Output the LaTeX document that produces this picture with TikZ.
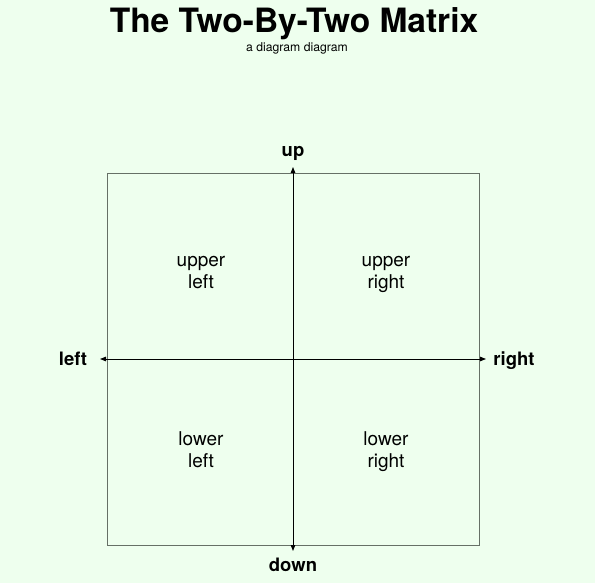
\documentclass[tikz,border=0pt]{standalone}
\usepackage{fontspec}
\setmainfont{TeX Gyre Heros}
\usetikzlibrary{arrows.meta}
\definecolor{bg}{HTML}{EEFFEE}
\definecolor{frame}{HTML}{667066}
\begin{document}
\begin{tikzpicture}[x=1pt,y=-1pt,
  axislabel/.style={font=\fontsize{18.5}{22}\selectfont\bfseries, inner sep=0pt, anchor=base},
  quadlabel/.style={font=\fontsize{19}{22}\selectfont, inner sep=0pt, align=center, anchor=base},
  axis/.style={draw=black, line width=0.9pt, {Triangle[length=6pt,width=4.5pt]}-{Triangle[length=6pt,width=4.5pt]}}]
\fill[bg] (0,0) rectangle (595,583);
\useasboundingbox (0,0) rectangle (595,583);
\node[inner sep=0pt, anchor=base, font=\fontsize{33.5}{36}\selectfont\bfseries] (title) at (294,33) {The Two-By-Two Matrix};
\node[inner sep=0pt, anchor=base, font=\fontsize{12.2}{14}\selectfont] (subtitle) at (297,52) {a diagram diagram};
\node[draw=frame, line width=0.9pt, minimum width=372pt, minimum height=372pt, inner sep=0pt] (box) at (293,359) {};
\coordinate (L) at (100,359);
\coordinate (R) at (486,359);
\coordinate (U) at (293,167);
\coordinate (D) at (293,551);
\draw[axis] (L) -- (R);
\draw[axis] (D) -- (U);
\node[axislabel] (up) at (293,157) {up};
\node[axislabel] (down) at (293,571) {down};
\node[axislabel] (left) at (73,365) {left};
\node[axislabel] (right) at (514,365) {right};
\node[quadlabel] (ul) at (201,288) {upper\\left};
\node[quadlabel] (ur) at (386,288) {upper\\right};
\node[quadlabel] (ll) at (201,467) {lower\\left};
\node[quadlabel] (lr) at (386,467) {lower\\right};
\end{tikzpicture}
\end{document}
